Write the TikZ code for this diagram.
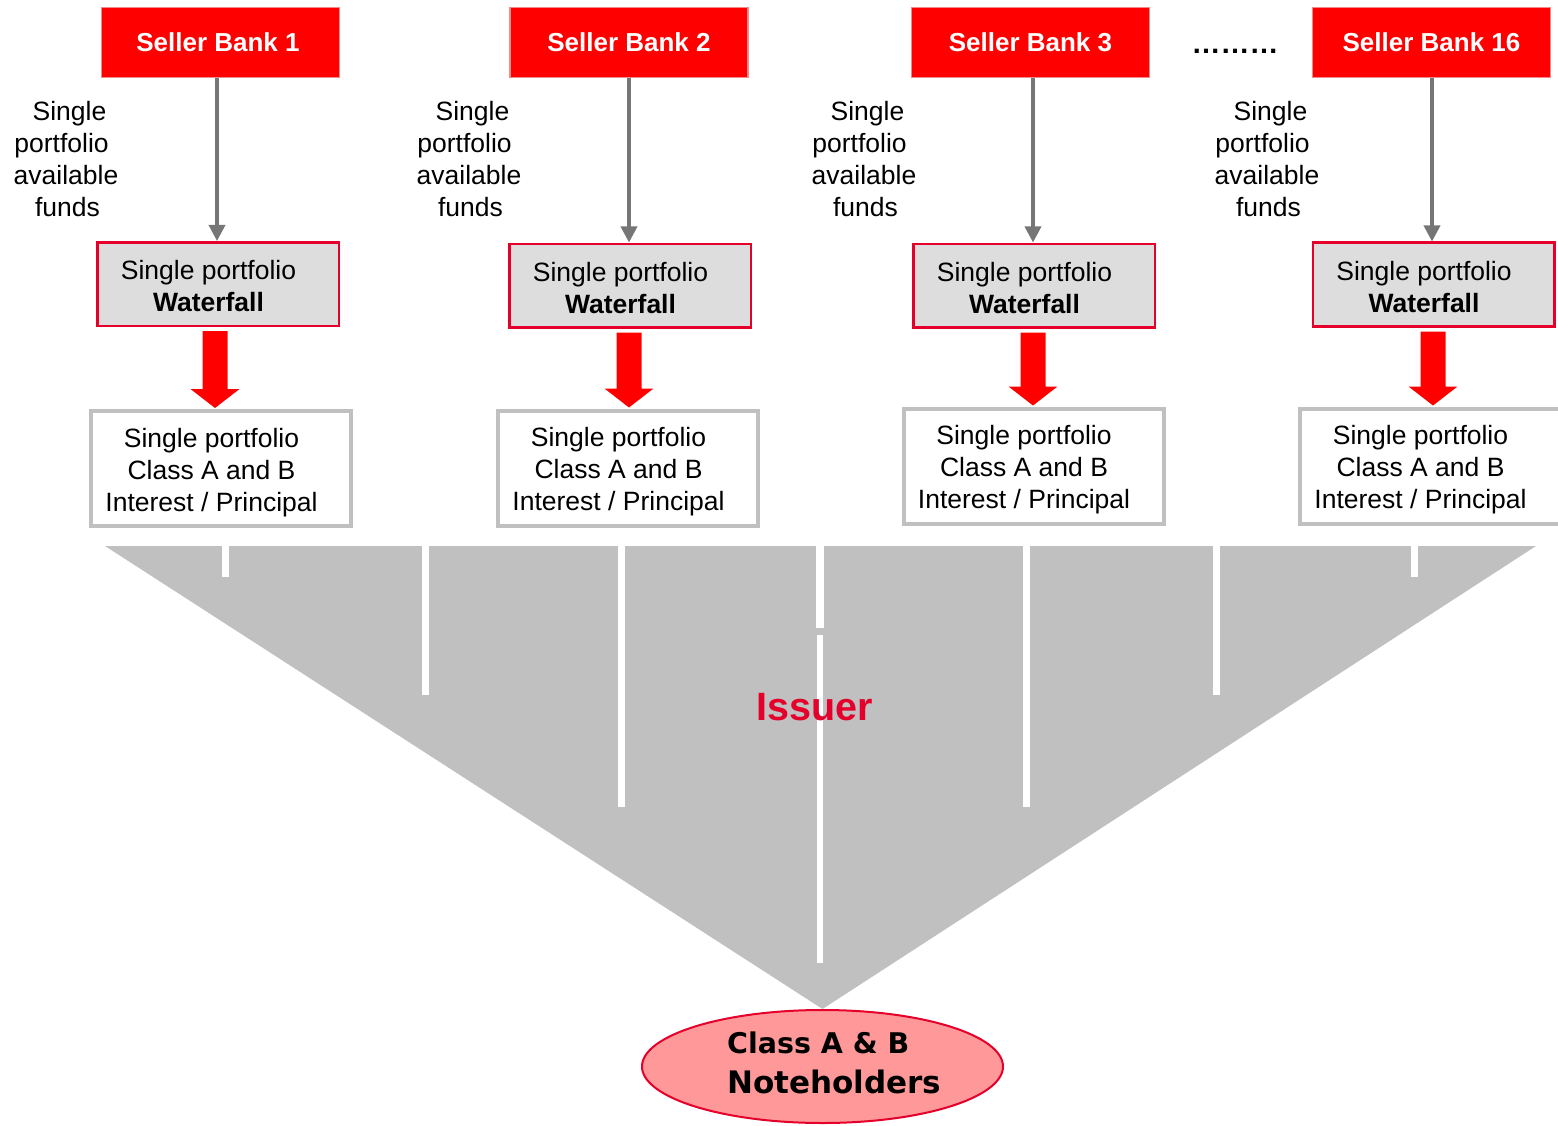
\documentclass[tikz,border=0pt]{standalone}
\usepackage{fontspec}
\setmainfont{Liberation Sans}
\newfontfamily\notefont{DejaVu Sans}
\usetikzlibrary{arrows.meta,shapes.geometric,calc}

\definecolor{bankred}{HTML}{FF0000}
\definecolor{bankedge}{HTML}{F28A8A}
\definecolor{crimson}{HTML}{E4002B}
\definecolor{wfgray}{HTML}{DDDDDD}
\definecolor{boxgray}{HTML}{C0C0C0}
\definecolor{funnelgray}{HTML}{C0C0C0}
\definecolor{notepink}{HTML}{FF9999}
\definecolor{arrowgray}{HTML}{767676}

% box texts sit a little left of the box centre
\newcommand\padr{\rule{19pt}{0pt}}
\newcommand\wfcontent{\rule{0pt}{23.3pt}Single portfolio\padr\\\textbf{Waterfall}\padr}
\newcommand\paycontent{\rule{0pt}{27.3pt}Single portfolio\padr\\Class A and B\padr\\Interest / Principal\padr}
\newcommand\fundscontent{\rule{7pt}{0pt}Single\\portfolio\rule{9pt}{0pt}\\available\\\rule{3pt}{0pt}funds}

\begin{document}
\begin{tikzpicture}[x=1pt,y=-1pt,
  bank/.style={draw=bankedge, line width=1.2pt, fill=bankred, minimum width=238pt,
    minimum height=70pt, inner sep=0pt, text=white, font=\fontsize{26}{31}\selectfont\bfseries},
  waterfall/.style={draw=crimson, line width=2.5pt, fill=wfgray, minimum width=241.5pt,
    minimum height=83.5pt, inner sep=0pt, align=center, font=\fontsize{26.5}{32}\selectfont},
  tranche/.style={draw=boxgray, line width=4pt, fill=white, minimum width=260pt,
    minimum height=115pt, inner sep=0pt, align=center, font=\fontsize{26.5}{32}\selectfont},
  fundslabel/.style={inner sep=0pt, align=center, font=\fontsize{26.5}{32}\selectfont},
  feed/.style={draw=arrowgray, line width=3.5pt, -{Triangle[length=16pt,width=16pt]}},
  slot/.style={draw=white, line width=7pt},
]
\useasboundingbox (0,0) rectangle (1558,1126);

% seller banks
\node[bank] (sb1)  at (220.5,42.5)  {Seller Bank 1\rule{5pt}{0pt}};
\node[bank] (sb2)  at (629,42.5)    {Seller Bank 2};
\node[bank] (sb3)  at (1030.5,42.5) {Seller Bank 3};
\node[bank] (sb16) at (1431.5,42.5) {Seller Bank 16};
\node[inner sep=0pt, font=\fontsize{29}{34}\selectfont\bfseries] (dots) at (1235,51) {………};

% available funds labels
\node[fundslabel] (lb1)  at (66,159)   {\fundscontent};
\node[fundslabel] (lb2)  at (469,159)  {\fundscontent};
\node[fundslabel] (lb3)  at (864,159)  {\fundscontent};
\node[fundslabel] (lb16) at (1267,159) {\fundscontent};

% waterfalls
\node[waterfall] (wf1)  at (218,284)      {\wfcontent};
\node[waterfall] (wf2)  at (630,285.5)    {\wfcontent};
\node[waterfall] (wf3)  at (1034,285.5)   {\wfcontent};
\node[waterfall] (wf16) at (1433.5,284.5) {\wfcontent};

% class A and B payments
\node[tranche] (tr1)  at (221,468.5)  {\paycontent};
\node[tranche] (tr2)  at (628,468)    {\paycontent};
\node[tranche] (tr3)  at (1033.5,466) {\paycontent};
\node[tranche] (tr16) at (1430,466)   {\paycontent};

% funds into each waterfall
\foreach \k/\dx in {1/-1,2/-1,3/-1,16/-1.5}
  \draw[feed] ($(wf\k.north |- sb\k.south)+(\dx,0)$) -- ($(wf\k.north)+(\dx,0)$);

% block arrows from waterfall to payments
\foreach \k/\dx in {1/-3,2/-1,3/-1,16/-0.5} {
  \coordinate (flow\k-s) at ($(wf\k.south)+(\dx,4)$);
  \coordinate (flow\k-t) at ($(flow\k-s |- tr\k.north)+(0,-1)$);
  \fill[bankred] ($(flow\k-s)+(-12.5,0)$) -- ($(flow\k-t)+(-12.5,-19)$)
    -- ($(flow\k-t)+(-24.5,-19)$) -- (flow\k-t) -- ($(flow\k-t)+(24.5,-19)$)
    -- ($(flow\k-t)+(12.5,-19)$) -- ($(flow\k-s)+(12.5,0)$) -- cycle;
}

% noteholders
\node[ellipse, draw=crimson, line width=2pt, fill=notepink, minimum width=361pt,
  minimum height=113pt, inner sep=0pt] (notes) at (822.5,1066.5) {};
\node[anchor=west, align=left, inner sep=0pt,
  font=\notefont\bfseries\fontsize{28.5}{40}\selectfont] (notestext) at (727,1062.5)
  {Class A \& B\\{\fontsize{31}{40}\selectfont Noteholders}};

% issuer funnel
\fill[funnelgray] (105,546) -- (1536,546) -- (notes.north) -- cycle;
\draw[slot] (225,545) -- (225,577);
\draw[slot] (425,545) -- (425,695);
\draw[slot] (621,545) -- (621,807);
\draw[slot, line width=8pt] (820,545) -- (820,628);
\draw[slot, line width=5.5pt] (820,635) -- (820,963);
\draw[slot] (1026,545) -- (1026,807);
\draw[slot] (1216,545) -- (1216,695);
\draw[slot] (1414,545) -- (1414,577);
\node[inner sep=0pt, text=crimson, font=\fontsize{39.5}{46}\selectfont\bfseries] (issuer)
  at (815,707) {Issuer};
\end{tikzpicture}
\end{document}
